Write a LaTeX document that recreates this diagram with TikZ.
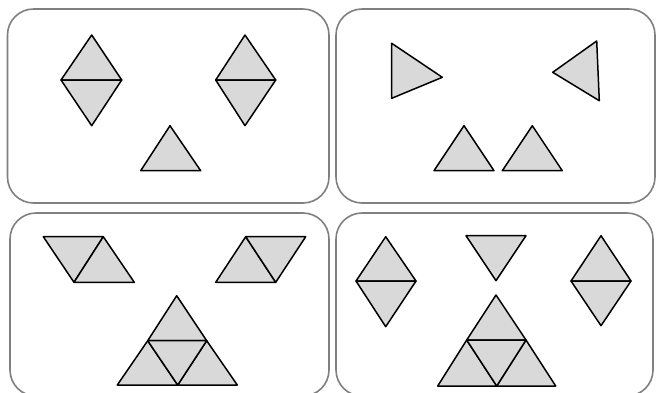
\documentclass[tikz,border=0pt]{standalone}
\begin{document}
\begin{tikzpicture}[x=1pt,y=-1pt,
  panel/.style={draw=black!50,line width=1.6pt,rounded corners=26pt},
  piece/.style={draw=black,fill=black!15,line width=1.5pt,line join=round}]
\useasboundingbox (0,0) rectangle (660,392);
\begin{scope}
\clip (0,0) rectangle (660,392);
% panels
\draw[panel] (7.5,9) rectangle (329,203);
\draw[panel] (336,9) rectangle (655,203);
\draw[panel] (10,213) rectangle (329,396);
\draw[panel] (336,213) rectangle (653,396);
\end{scope}
% panel 1
\draw[piece] (91.7,35) -- (121.7,80) -- (61,80) -- cycle;
\draw[piece] (61,80) -- (121.7,80) -- (91.7,125.7) -- cycle;
\draw[piece] (245,35) -- (275.7,80) -- (215.7,80) -- cycle;
\draw[piece] (215.7,80) -- (275.7,80) -- (245,125.7) -- cycle;
\draw[piece] (170,125.7) -- (200.7,170.7) -- (140.7,170.7) -- cycle;
% panel 2
\draw[piece] (391.7,43.3) -- (442.3,77.3) -- (391.7,98.3) -- cycle;
\draw[piece] (596.7,41) -- (599.3,100.7) -- (552.7,72.3) -- cycle;
\draw[piece] (464,125.7) -- (494,170.7) -- (434,170.7) -- cycle;
\draw[piece] (532.3,125.7) -- (562.3,170.7) -- (502.3,170.7) -- cycle;
% panel 3
\draw[piece] (43.3,236.7) -- (103.3,236.7) -- (74,282.3) -- cycle;
\draw[piece] (74,282.3) -- (103.3,236.7) -- (134.3,282.3) -- cycle;
\draw[piece] (245.7,236.7) -- (275.7,282.3) -- (215.7,282.3) -- cycle;
\draw[piece] (245.7,236.7) -- (305.7,236.7) -- (275.7,282.3) -- cycle;
\draw[piece] (176.7,295.7) -- (206.7,340.7) -- (147.7,340.7) -- cycle;
\draw[piece] (147.7,340.7) -- (177.7,385) -- (117.3,385) -- cycle;
\draw[piece] (206.7,340.7) -- (237.3,385) -- (177.7,385) -- cycle;
\draw[piece] (147.7,340.7) -- (206.7,340.7) -- (177.7,385) -- cycle;
% panel 4
\draw[piece] (385.7,236.7) -- (416,281) -- (356,281) -- cycle;
\draw[piece] (356,281) -- (416,281) -- (385.7,326.7) -- cycle;
\draw[piece] (466,235.7) -- (526,235.7) -- (496,280.7) -- cycle;
\draw[piece] (601,235.7) -- (631,281) -- (571,281) -- cycle;
\draw[piece] (571,281) -- (631,281) -- (601,325.7) -- cycle;
\draw[piece] (496,295) -- (526,340) -- (466.7,340) -- cycle;
\draw[piece] (466.7,340) -- (496.7,386) -- (437.7,386) -- cycle;
\draw[piece] (526,340) -- (555.7,386) -- (496.7,386) -- cycle;
\draw[piece] (466.7,340) -- (526,340) -- (496.7,386) -- cycle;
\end{tikzpicture}
\end{document}
